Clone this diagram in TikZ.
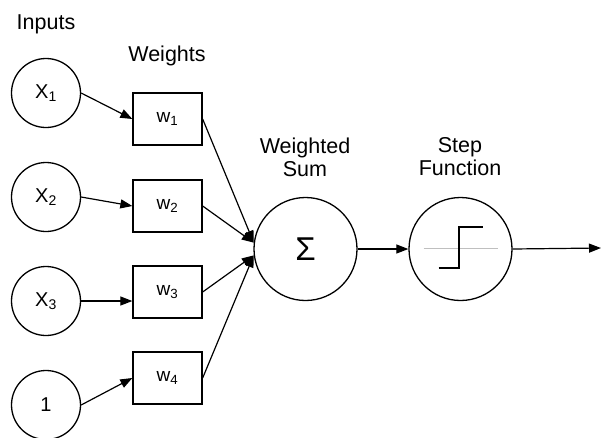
\documentclass[tikz,border=0pt]{standalone}
\usepackage{fontspec}
\setmainfont{Liberation Sans}
\usetikzlibrary{arrows.meta}
\begin{document}
\begin{tikzpicture}[x=1pt,y=-1pt,
  lbl/.style={font=\fontsize{21.5}{23}\selectfont, align=center, inner sep=0pt},
  inp/.style={circle, draw, line width=1.3pt, minimum size=69pt, inner sep=0pt, font=\fontsize{20}{22}\selectfont},
  wbox/.style={rectangle, draw, line width=1.3pt, minimum width=69pt, minimum height=52pt, inner sep=0pt, font=\fontsize{19}{22}\selectfont},
  big/.style={circle, draw, line width=1.3pt, minimum size=103pt, inner sep=0pt},
  conn/.style={line width=1.2pt, -{Triangle[length=12pt,width=9pt]}}
]
\useasboundingbox (0,0) rectangle (601,437);
\node[lbl] (tin) at (46,24) {Inputs};
\node[lbl] (tw) at (167,56) {Weights};
\node[lbl] (tsum) at (305,157) {Weighted\\Sum};
\node[lbl] (tstep) at (460,157) {Step\\Function};

\node[inp] (x1) at (46,93) {X\textsubscript{1}};
\node[inp] (x2) at (46,197) {X\textsubscript{2}};
\node[inp] (x3) at (46,301) {X\textsubscript{3}};
\node[inp] (one) at (46,405) {1};

\node[wbox] (w1) at (167.5,119) {w\textsubscript{1}};
\node[wbox] (w2) at (167.5,206) {w\textsubscript{2}};
\node[wbox] (w3) at (167.5,292) {w\textsubscript{3}};
\node[wbox] (w4) at (167.5,378) {w\textsubscript{4}};

\node[big, font=\fontsize{33}{35}\selectfont] (sum) at (305.5,249) {Σ};
\node[big] (step) at (460.5,249) {};
\coordinate (out) at (601,248);

\draw[conn] (x1.east) -- (w1.west);
\draw[conn] (x2.east) -- (w2.west);
\draw[conn] (x3.east) -- (x3.east -| w3.west);
\draw[conn] (one.east) -- (w4.west);

\draw[conn] (w1.east) -- (sum.173);
\draw[conn] (w2.east) -- (sum.173);
\draw[conn] (w3.east) -- (sum.187);
\draw[conn] (w4.east) -- (sum.187);

\draw[conn] (sum.east) -- (step.west);
\draw[conn] (step.east) -- (out);

\begin{scope}[shift={(step.center)}]
  \draw[gray!50, line width=0.8pt] (-37,-1) -- (37,-1);
  \draw[line width=1.3pt] (-22,19) -- (-1.5,19) -- (-1.5,-22) -- (22,-22);
\end{scope}
\end{tikzpicture}
\end{document}
